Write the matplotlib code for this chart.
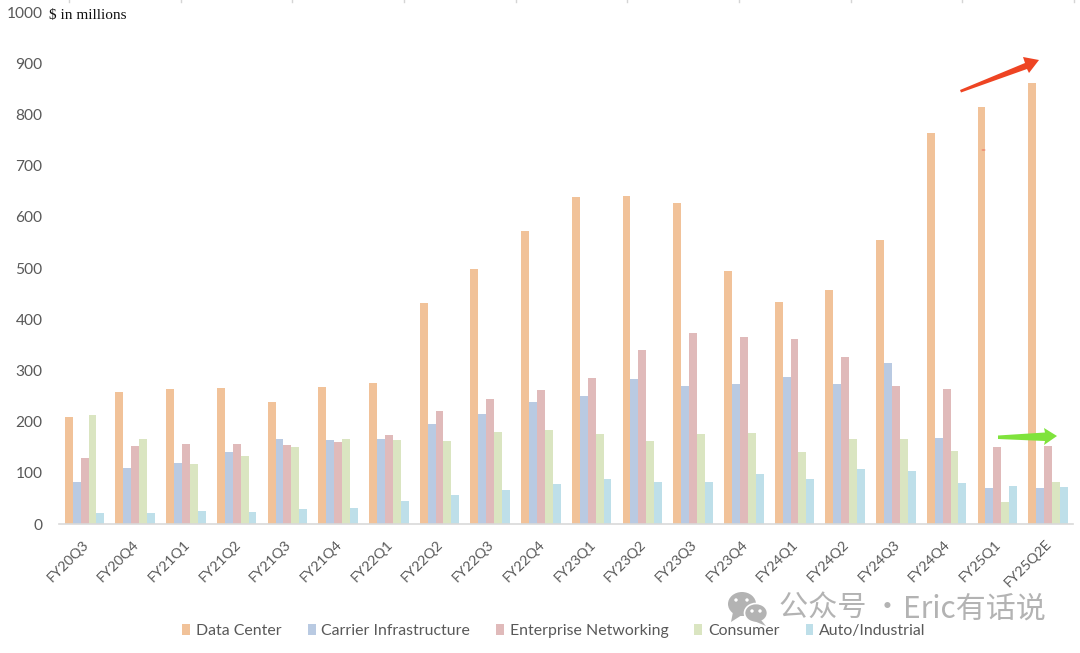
#!/usr/bin/python

import numpy as np
import matplotlib
matplotlib.use("Agg")
import matplotlib.pyplot as plt
from matplotlib.patches import Ellipse, Polygon
from matplotlib.transforms import ScaledTranslation

quarters = ["FY20Q3", "FY20Q4", "FY21Q1", "FY21Q2", "FY21Q3", "FY21Q4", "FY22Q1",
            "FY22Q2", "FY22Q3", "FY22Q4", "FY23Q1", "FY23Q2", "FY23Q3", "FY23Q4",
            "FY24Q1", "FY24Q2", "FY24Q3", "FY24Q4", "FY25Q1", "FY25Q2E"]

data_center = [209, 257, 264, 266, 238, 267, 276, 432, 498, 572,
               638, 641, 626, 495, 433, 458, 554, 763, 814, 862]
carrier = [82, 110, 120, 141, 166, 165, 166, 195, 214, 239,
           250, 284, 270, 274, 288, 274, 315, 168, 70, 70]
enterprise = [128, 152, 157, 157, 155, 160, 173, 220, 244, 261,
              285, 339, 373, 365, 362, 326, 270, 263, 151, 153]
consumer = [212, 166, 118, 133, 151, 166, 165, 163, 180, 183,
            176, 162, 176, 177, 140, 166, 166, 143, 42, 82]
auto = [21, 22, 25, 23, 29, 32, 45, 56, 66, 78,
        88, 82, 82, 98, 88, 108, 104, 81, 75, 72]

segments = ["Data Center", "Carrier Infrastructure", "Enterprise Networking",
            "Consumer", "Auto/Industrial"]
colors = ["#F1C299", "#B9CAE2", "#E0BABA", "#DAE5C1", "#BEDFE9"]
series = [data_center, carrier, enterprise, consumer, auto]

W, H = 1080, 653
TEXT = "#595959"
plt.rcParams["font.family"] = ["Lato", "DejaVu Sans"]

fig = plt.figure(figsize=(W / 100, H / 100), dpi=100)
ax = fig.add_axes([59.2 / W, 1 - 524 / H, (1073.4 - 59.2) / W, (524 - 12) / H])

x = np.arange(len(quarters))
width = 0.156
for i, (name, values, color) in enumerate(zip(segments, series, colors)):
    ax.bar(x + (i - 2) * width, values, width, color=color, label=name)

ax.set_xlim(-0.5, len(quarters) - 0.5)
ax.set_ylim(0, 1000)
ax.set_yticks(range(0, 1001, 100))
ax.tick_params(axis="y", length=0, pad=12, labelsize=11.2, labelcolor=TEXT)
ax.set_xticks(x)
ax.set_xticklabels(quarters, rotation=45, ha="right", va="top", rotation_mode="anchor")
ax.tick_params(axis="x", length=0, pad=10, labelsize=10.3, labelcolor=TEXT)
shift = ScaledTranslation(-2.5 / 100, 0, fig.dpi_scale_trans)
for label in ax.get_xticklabels():
    label.set_transform(label.get_transform() + shift)
for side in ["top", "right", "left"]:
    ax.spines[side].set_visible(False)
ax.spines["bottom"].set_color("#D9D9D9")
ax.spines["bottom"].set_linewidth(1.2)

fig.legend(loc="center", bbox_to_anchor=(554 / W, 1 - 631 / H), ncols=5, frameon=False,
           fontsize=11.4, labelcolor=TEXT, handlelength=0.5, handleheight=0.7,
           handletextpad=0.35, columnspacing=1.65)

# overlay in pixel coordinates for the hand-drawn notes
over = fig.add_axes([0, 0, 1, 1])
over.set_xlim(0, W)
over.set_ylim(H, 0)
over.axis("off")

over.text(49, 15, "$ in millions", family="Liberation Serif", fontsize=11,
          color="#111111", va="center")

# red arrow, tapering towards the tail
over.add_patch(Polygon([(960, 90), (1025, 63), (1023, 57), (1039, 60), (1029, 73), (1027, 69), (961, 92.5)],
                       color="#EE4423", lw=0))
# green arrow
over.add_patch(Polygon([(998, 435.5), (1045, 432.5), (1044, 428), (1057, 436), (1044, 445), (1045, 441), (998, 439)],
                       color="#7FE33C", lw=0))
# small red speck on the FY25Q1 bar
over.add_patch(Ellipse((983.5, 150), 4, 1.6, color="#EE8A70", lw=0))

# crop marks along the top edge
for px in np.linspace(69, 1074, 10):
    over.plot([px, px], [0, 1.5], color="#D5D5D5", lw=1)

# account watermark
grey = "#B3B3B3"
cjk = ["Noto Sans CJK SC", "DejaVu Sans"]
over.add_patch(Ellipse((742, 604), 28, 24, color=grey, lw=0))
over.add_patch(Polygon([(733, 612), (731, 622), (742, 615)], color=grey, lw=0))
over.add_patch(Ellipse((756, 613), 23, 19, color=grey, ec="white", lw=1.2))
over.add_patch(Polygon([(761, 620), (766, 626), (754, 621)], color=grey, lw=0))
for ex, ey in [(736, 600), (747, 600), (752, 611), (760, 611)]:
    over.add_patch(Ellipse((ex, ey), 3.4, 3.4, color="white", lw=0))
over.text(779, 609, "公众号 ·", family=cjk, fontsize=21, color=grey, va="center")
over.text(903, 609, "Eric有话说", family=cjk, fontsize=21.6, color=grey, va="center")

fig.savefig("out.png", dpi=100)
